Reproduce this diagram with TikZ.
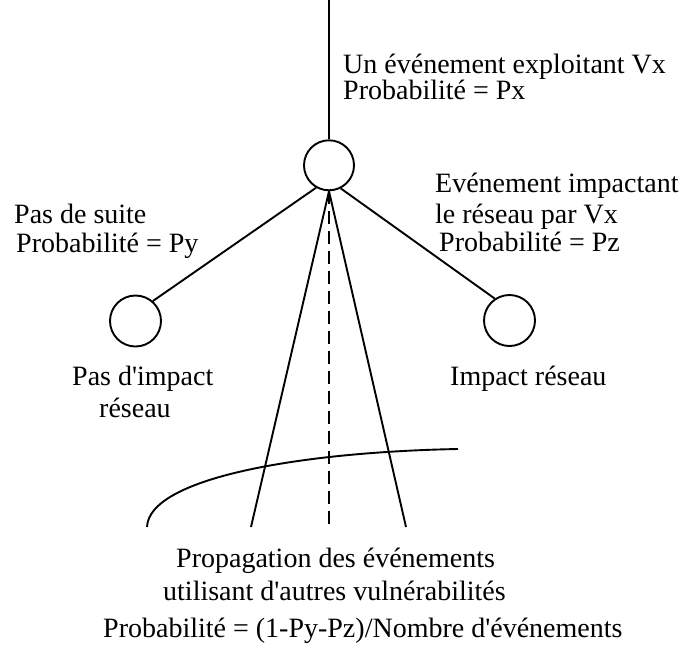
\documentclass[tikz,border=0pt]{standalone}
\usepackage{fontspec}
\setmainfont{Liberation Serif}
\newcommand{\sq}{\textquotesingle}
\begin{document}
\begin{tikzpicture}[x=1pt,y=-1pt,
  state/.style={circle,draw,line width=1.9pt,minimum size=50pt,inner sep=0pt},
  edge/.style={line width=1.9pt},
  faint/.style={line width=1.9pt,dash pattern=on 13pt off 7pt},
  lbl/.style={inner sep=0pt,font=\fontsize{28}{32}\selectfont}]
\useasboundingbox (0,0) rectangle (682,648);

% event tree nodes
\node[state] (root) at (329,165.3) {};
\node[state,minimum size=51pt] (noimp) at (135.5,321) {};
\node[state,minimum size=51pt] (imp) at (509.5,320.5) {};

% incoming event and the two direct outcomes
\coordinate (top) at (329,0);
\draw[edge] (top) -- (root.north);
\draw[edge] (root.240) -- (noimp.49);
\draw[edge] (root.297) -- (imp.124);

% propagation fan
\coordinate (fanL) at (251,527);
\coordinate (fanM) at (329,527);
\coordinate (fanR) at (406,527);
\draw[edge] (root.south) -- (fanL);
\draw[faint] (root.south) -- (fanM);
\draw[edge] (root.south) -- (fanR);

% front of the propagation
\coordinate (arcA) at (147,527);
\coordinate (arcB) at (458,449);
\draw[edge] (arcA) .. controls (149,478) and (300,452) .. (arcB);

% labels
\node[lbl,anchor=base west] (t1) at (343,73) {Un événement exploitant Vx};
\node[lbl,anchor=base west] (t2) at (343,99) {Probabilité = Px};
\node[lbl,anchor=base west] (t3) at (435,192) {Evénement impactant};
\node[lbl,anchor=base west] (t4) at (435,223) {le réseau par Vx};
\node[lbl,anchor=base west] (t5) at (439,251) {Probabilité = Pz};
\node[lbl,anchor=base west] (t6) at (14,223) {Pas de suite};
\node[lbl,anchor=base west] (t7) at (16,252) {Probabilité = Py};
\node[lbl,anchor=base west] (t8) at (72,385) {Pas d\sq impact};
\node[lbl,anchor=base west] (t9) at (99,417) {réseau};
\node[lbl,anchor=base west] (t10) at (450,385) {Impact réseau};
\node[lbl,anchor=base west] (t11) at (176,567) {Propagation des événements};
\node[lbl,anchor=base west] (t12) at (163,600) {utilisant d\sq autres vulnérabilités};
\node[lbl,anchor=base west] (t13) at (103,637) {Probabilité = (1-Py-Pz)/Nombre d\sq événements};
\end{tikzpicture}
\end{document}
